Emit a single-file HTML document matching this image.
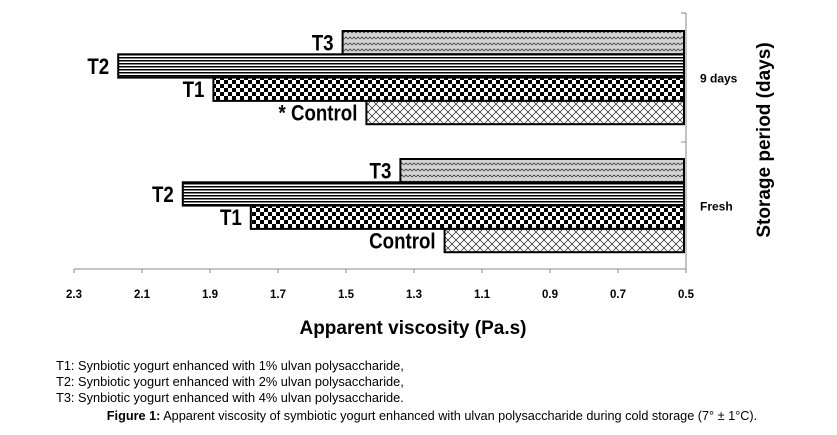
<!DOCTYPE html>
<html><head><meta charset="utf-8"><style>
body{margin:0;background:#fff;width:837px;height:435px;overflow:hidden;font-family:"Liberation Sans",sans-serif}
svg{position:absolute;left:0;top:0}
</style></head><body>
<svg width="837" height="435">
<defs>
<pattern id="pT3" width="8" height="6" patternUnits="userSpaceOnUse"><rect width="8" height="6" fill="#d4d4d4"/><path d="M0,3 L2,1 L4,3 L6,1 L8,3" stroke="#444" stroke-width="0.8" fill="none"/></pattern>
<pattern id="pT2" width="4" height="3" patternUnits="userSpaceOnUse"><rect width="4" height="3" fill="#fff"/><rect width="4" height="1.5" fill="#000"/></pattern>
<pattern id="pT1" width="8" height="8" patternUnits="userSpaceOnUse"><rect width="8" height="8" fill="#fff"/><rect width="4" height="4" fill="#000"/><rect x="4" y="4" width="4" height="4" fill="#000"/></pattern>
<pattern id="pC" width="8" height="8" patternUnits="userSpaceOnUse"><rect width="8" height="8" fill="#fff"/><path d="M0,0 L8,8 M8,0 L0,8" stroke="#222" stroke-width="0.7"/></pattern>
</defs>
<g id="plot"></g>
<text x="770" y="140" transform="rotate(-90 770 140)" text-anchor="middle" font-size="19" font-weight="bold">Storage period (days)</text>
<text x="413" y="334" text-anchor="middle" font-size="19" font-weight="bold">Apparent viscosity (Pa.s)</text>
<g font-size="12.8">
<text x="56" y="370">T1: Synbiotic yogurt enhanced with 1% ulvan polysaccharide,</text>
<text x="56" y="386">T2: Synbiotic yogurt enhanced with 2% ulvan polysaccharide,</text>
<text x="56" y="402">T3: Synbiotic yogurt enhanced with 4% ulvan polysaccharide.</text>
</g>
<text x="432" y="420" text-anchor="middle" font-size="12.7"><tspan font-weight="bold">Figure 1:</tspan> Apparent viscosity of symbiotic yogurt enhanced with ulvan polysaccharide during cold storage (7° ± 1°C).</text>
</svg>
<script>
const groups = ["9 days", "Fresh"];
const seriesNames = ["T3", "T2", "T1", "Control"];
const labelText9 = ["T3", "T2", "T1", "* Control"];
const labelTextFresh = ["T3", "T2", "T1", "Control"];
const values9 = [1.51, 2.17, 1.89, 1.44];
const valuesFresh = [1.34, 1.98, 1.78, 1.21];
const ticks = ["2.3","2.1","1.9","1.7","1.5","1.3","1.1","0.9","0.7","0.5"];
const NS="http://www.w3.org/2000/svg";
const g=document.getElementById('plot');
const xMin=0.5,xMax=2.3,xR=686,xL=74;
function xs(v){return xR-(v-xMin)/(xMax-xMin)*(xR-xL);}
const groupTop=[31,159],barH=23.3;
const fills=["url(#pT3)","url(#pT2)","url(#pT1)","url(#pC)"];
function mk(tag,at){const e=document.createElementNS(NS,tag);for(const k in at)e.setAttribute(k,at[k]);g.appendChild(e);return e;}
[values9,valuesFresh].forEach((vals,gi)=>{
  const labs=gi===0?labelText9:labelTextFresh;
  vals.forEach((v,i)=>{
    const y=groupTop[gi]+i*barH;
    const r=mk('rect',{x:xs(v),y:y,width:684-xs(v),height:barH,fill:fills[i],stroke:'#000','stroke-width':2});
    
    
    const lx=xs(v)-9, ly=y+barH/2+8;
    const t=mk('text',{x:lx,y:ly,'text-anchor':'end','font-size':22,'font-weight':'bold',transform:'translate('+lx+' 0) scale(0.85 1) translate('+(-lx)+' 0)'});
    t.textContent=labs[i];
    
    
  });
  const c=mk('text',{x:700,y:groupTop[gi]+2*barH+5,'font-size':12,'font-weight':'bold'});
  c.textContent=groups[gi];
  
  
});
const ax=mk('path',{d:'M686,13 V269 M686,13 H681 M686,142 H681 M686,269 H681 M'+xL+',269 H686',stroke:'#888','stroke-width':1,fill:'none'});


ticks.forEach(tk=>{
  const x=xs(parseFloat(tk));
  const tm=mk('line',{x1:x,x2:x,y1:269,y2:273,stroke:'#888'});
  
  
  const t=mk('text',{x:x,y:298,'text-anchor':'middle','font-size':11.5,'font-weight':'bold'});
  t.textContent=tk;
  
  
});
</script>
</body></html>
